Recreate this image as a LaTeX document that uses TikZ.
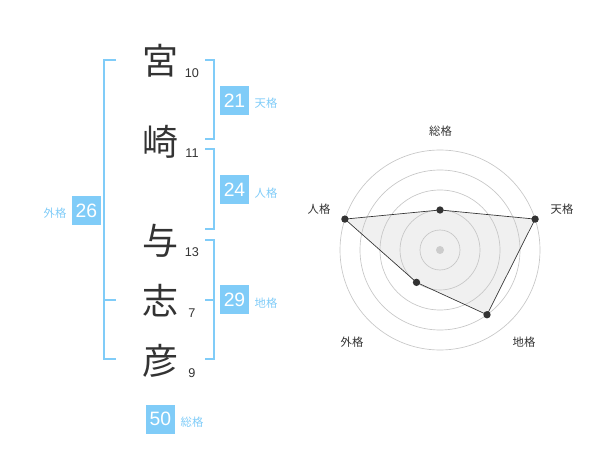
\documentclass[tikz,border=0pt]{standalone}
\usepackage{fontspec}
\setmainfont{Liberation Sans}
\newfontfamily\jp{Noto Sans CJK JP}
\definecolor{kakublue}{HTML}{80CCF8}
\definecolor{inkgray}{HTML}{333333}

\begin{document}
\begin{tikzpicture}[x=0.75pt,y=-0.75pt,%
                    kanji/.style={text=inkgray,font=\jp\fontsize{27}{27}\selectfont,inner sep=0pt},%
                    strokes/.style={text=inkgray,font=\fontsize{9.5}{10}\selectfont,inner sep=0pt},%
                    kakubox/.style={fill=kakublue,text=white,font=\fontsize{14.5}{15}\selectfont,%
                                    minimum width=21.75pt,minimum height=21.75pt,inner sep=0pt},%
                    kakulabel/.style={text=kakublue,font=\jp\fontsize{8.5}{9}\selectfont,inner sep=0pt},%
                    bracket/.style={draw=kakublue,line width=1.5pt},%
                    ring/.style={draw=black!22,line width=0.5pt},%
                    axislabel/.style={text=inkgray,font=\jp\fontsize{8.5}{9}\selectfont,inner sep=0pt},%
                    dot/.style={circle,fill=inkgray,inner sep=0pt,minimum size=5.5pt}%
                   ]%
\useasboundingbox (0,0) rectangle (600,470);%
% name
\node[kanji] (k1) at (160,61) {宮};%
\node[kanji] (k2) at (160,142) {崎};%
\node[kanji] (k3) at (160,241) {与};%
\node[kanji] (k4) at (160,301) {志};%
\node[kanji] (k5) at (160,361) {彦};%
\node[strokes] (s1) at (192,73) {10};%
\node[strokes] (s2) at (192,153) {11};%
\node[strokes] (s3) at (192,252) {13};%
\node[strokes] (s4) at (192,313) {7};%
\node[strokes] (s5) at (192,373) {9};%
% brackets
\draw[bracket] (116,60) -- (104,60) -- (104,359) -- (116,359);%
\draw[bracket] (104,300) -- (116,300);%
\draw[bracket] (205,60) -- (214,60) -- (214,139) -- (205,139);%
\draw[bracket] (205,149) -- (214,149) -- (214,229) -- (205,229);%
\draw[bracket] (205,240) -- (214,240) -- (214,359) -- (205,359);%
\draw[bracket] (205,300) -- (214,300);%
% totals
\node[kakubox] (ten) at (234.5,100.5) {21};%
\node[kakulabel] (tenl) at (266,103) {天格};%
\node[kakubox] (jin) at (234.5,190) {24};%
\node[kakulabel] (jinl) at (266,193) {人格};%
\node[kakubox] (chi) at (234.5,300) {29};%
\node[kakulabel] (chil) at (266,303) {地格};%
\node[kakubox] (gai) at (86.5,211) {26};%
\node[kakulabel] (gail) at (55,213) {外格};%
\node[kakubox] (sou) at (160.5,419) {50};%
\node[kakulabel] (soul) at (192,422) {総格};%
% radar
\begin{scope}[shift={(440,250)},yscale=-1]%
\coordinate (p1) at (90:40);%
\coordinate (p2) at (18:100);%
\coordinate (p3) at (-54:80);%
\coordinate (p4) at (-126:40);%
\coordinate (p5) at (162:100);%
\fill[black!6] (p1) -- (p2) -- (p3) -- (p4) -- (p5) -- cycle;%
\foreach \r in {20,40,60,80,100} \draw[ring] (0,0) circle (\r);%
\draw[inkgray,line width=0.5pt] (p1) -- (p2) -- (p3) -- (p4) -- (p5) -- cycle;%
\foreach \p in {p1,p2,p3,p4,p5} \node[dot] at (\p) {};%
\node[circle,fill=black!20,inner sep=0pt,minimum size=6pt] (c) at (0,0) {};%
\end{scope}%
\node[axislabel] (a1) at (440.5,131) {総格};%
\node[axislabel] (a2) at (562,209) {天格};%
\node[axislabel] (a3) at (524,342) {地格};%
\node[axislabel] (a4) at (352,342) {外格};%
\node[axislabel] (a5) at (319,209) {人格};%
\end{tikzpicture}
\end{document}
